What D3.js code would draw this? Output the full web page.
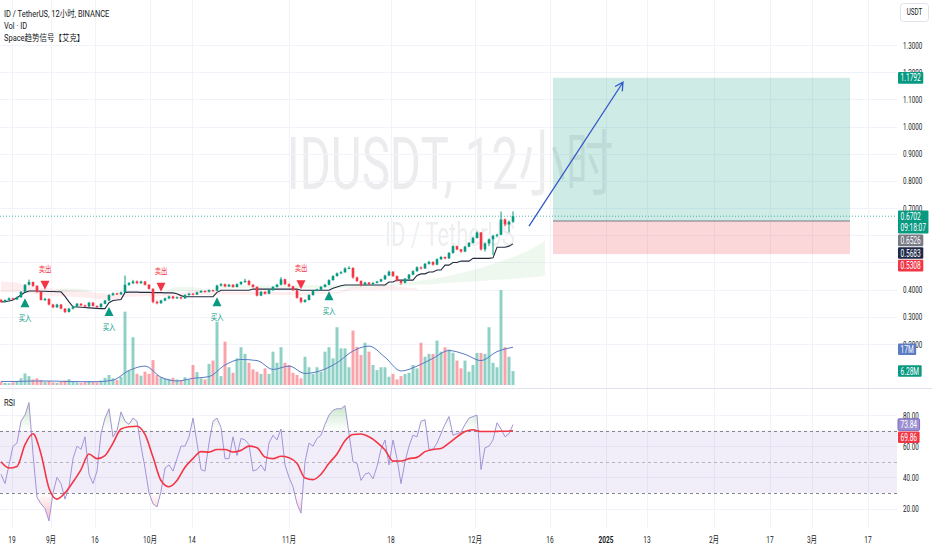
<!DOCTYPE html>
<html>
<head>
<meta charset="utf-8" />
<title>IDUSDT 12小时</title>
<style>
  body { margin: 0; background: #fff; }
  svg { display: block; }
</style>
</head>
<body>
<script src="https://d3js.org/d3.v7.min.js"></script>
<script>
// ---- data ----
// one row per 12h bar: [open, high, low, close]
var candles = [
  [.362,.366,.352,.355],[.355,.364,.353,.362],[.362,.371,.360,.368],[.368,.370,.362,.364],[.364,.375,.362,.372],
  [.372,.394,.370,.392],[.392,.420,.390,.418],[.418,.437,.415,.428],[.428,.430,.410,.414],[.414,.416,.388,.392],
  [.392,.394,.360,.362],[.362,.370,.358,.366],[.366,.368,.342,.345],[.345,.348,.332,.335],[.335,.348,.333,.345],
  [.345,.347,.328,.330],[.330,.332,.314,.318],[.318,.333,.316,.330],[.330,.340,.327,.338],[.338,.351,.336,.348],
  [.348,.350,.340,.342],[.342,.345,.335,.338],[.338,.355,.336,.352],[.352,.354,.338,.340],[.340,.342,.333,.336],
  [.336,.350,.334,.348],[.348,.362,.346,.360],[.360,.383,.358,.380],[.380,.390,.377,.386],[.386,.389,.380,.383],
  [.383,.393,.381,.390],[.390,.452,.388,.418],[.418,.428,.414,.424],[.424,.436,.420,.430],[.430,.434,.420,.424],
  [.424,.433,.421,.430],[.430,.432,.415,.418],[.418,.420,.400,.403],[.403,.405,.350,.355],[.355,.360,.346,.350],
  [.350,.363,.348,.360],[.360,.371,.357,.368],[.368,.378,.365,.375],[.375,.377,.365,.368],[.368,.375,.366,.372],
  [.372,.374,.364,.368],[.368,.383,.366,.380],[.380,.388,.378,.385],[.385,.387,.379,.382],[.382,.393,.380,.390],
  [.390,.398,.388,.395],[.395,.397,.389,.392],[.392,.401,.390,.398],[.398,.400,.393,.396],[.396,.418,.394,.415],
  [.415,.424,.412,.420],[.420,.422,.409,.412],[.412,.421,.410,.418],[.418,.420,.407,.410],[.410,.423,.408,.420],
  [.420,.431,.418,.428],[.428,.440,.425,.432],[.432,.436,.415,.418],[.418,.420,.407,.410],[.410,.412,.375,.378],
  [.378,.395,.376,.392],[.392,.394,.382,.385],[.385,.401,.383,.398],[.398,.413,.396,.410],[.410,.421,.408,.418],
  [.418,.446,.416,.438],[.438,.440,.417,.420],[.420,.423,.409,.412],[.412,.414,.395,.398],[.398,.400,.367,.370],
  [.370,.372,.350,.355],[.355,.365,.352,.362],[.362,.383,.360,.380],[.380,.399,.378,.396],[.396,.404,.394,.400],
  [.400,.413,.398,.410],[.410,.421,.408,.418],[.418,.438,.416,.435],[.435,.453,.433,.450],[.450,.463,.448,.460],
  [.460,.468,.457,.464],[.464,.482,.462,.478],[.478,.486,.475,.480],[.480,.482,.440,.445],[.445,.448,.428,.432],
  [.432,.434,.412,.418],[.418,.429,.416,.426],[.426,.428,.417,.420],[.420,.427,.418,.425],[.425,.432,.423,.430],
  [.430,.440,.428,.438],[.438,.455,.436,.452],[.452,.470,.450,.466],[.466,.468,.447,.450],[.450,.452,.429,.432],
  [.432,.434,.418,.425],[.425,.443,.423,.440],[.440,.458,.438,.455],[.455,.471,.453,.468],[.468,.486,.466,.482],
  [.482,.485,.474,.478],[.478,.498,.476,.495],[.495,.506,.492,.502],[.502,.504,.488,.492],[.492,.515,.490,.512],
  [.512,.524,.509,.520],[.520,.522,.512,.515],[.515,.538,.513,.535],[.535,.563,.532,.560],[.560,.562,.545,.548],
  [.548,.550,.536,.540],[.540,.561,.538,.558],[.558,.575,.556,.572],[.572,.594,.570,.590],[.590,.614,.588,.610],
  [.610,.612,.544,.548],[.548,.574,.540,.570],[.570,.588,.560,.585],[.585,.602,.527,.598],[.598,.606,.592,.602],
  [.602,.687,.600,.658],[.658,.662,.634,.640],[.640,.654,.610,.650],[.650,.688,.645,.6702]
];

// volume per bar, millions
var volumes = [
  1.5,1.0,0.8,1.2,1.8,3.0,5.2,4.0,2.5,3.0, 2.2,1.5,1.8,1.2,1.0,1.4,2.0,2.6,1.5,1.2,
  1.0,1.3,1.8,1.5,1.2,2.0,3.2,4.5,3.0,2.2, 3.7,33,6.5,21.5,5.0,4.2,6.0,5.0,11.2,4.5,
  3.5,3.0,2.8,3.2,2.5,2.0,3.5,2.5,9.0,5.8, 3.0,2.5,9.5,11,28.5,4,19.5,8,5.5,12,
  17,14,10,7,6,5,7.5,5,15,10, 17,10,9,5.5,4.5,3,12.7,8,5,8,
  6,15,17,12,26,16.5,16.5,8,24.5,17.2, 13.5,19,15,9,6.7,8,8,3.7,5,2.5,
  4,5,5.5,9,7.5,19,12.7,14,14,20, 15,17,16,14.5,11,7.5,11,6,9,14.4,
  14.4,14,26,10,8,42.7,17,12.7,6.28
];
// volume moving average, one value every 4 bars
var volMaStep = 4;
var volMa = [1.6,1.6,1.8,1.8,1.6,1.5,1.5,2.2,6.5,8.5,3.5,1.8,3.0,3.8,9,11.5,11,7,8.5,5.2,6.5,10,15.3,17.5,12.5,6.3,8.5,12,15.5,13.8,11,15,17];

// "Space趋势信号" trend line, per bar
var trend = [
  .355,.356,.358,.362,.370,.380,.390,
  .395,.395,.395,.394,.394,.393,.393,.392,.392,
  .375,.355,.337,
  .336,.335,.334,.333,.332,.331,.330,.330,
  .352,.360,.362,.364,.390,
  .391,.391,.391,.390,.390,.390,.389,.389,.389,.388,.388,.388,
  .385,.378,
  .374,.374,.374,.374,.374,.374,.374,.374,
  .390,
  .398,.398,.398,.398,.398,.398,.398,.398,
  .402,.402,.402,.402,.402,.402,.402,.402,.402,.402,.402,.402,
  .398,.398,.398,.398,.398,.398,.398,.398,
  .405,.410,.414,
  .417,.417,.417,.417,.417,.417,.417,.417,.417,.417,.417,
  .428,.428,
  .435,.435,.435,.435,.435,
  .452,.458,.458,.465,.465,.472,.472,.490,.490,.500,.500,.505,.505,.505,
  .515,.515,.515,.515,.515,.517,.556,.556,.556,.560,.5683
];

// cloud bands, one value every 4 bars
var cloudStep = 4;
var pinkTop = [.43,.425,.41,.405,.40,.395,.388,.386,.387,.387,.386,.384,.398,.398,.393,.392,.392,.392,.39,.39,.392,.392,.41,.41,.415,.41,.405];
var pinkBot = [.39,.39,.385,.378,.375,.372,.366,.364,.374,.376,.376,.376,.382,.38,.383,.382,.381,.381,.38,.38,.385,.386,.40,.398,.40,.40,.40];
var greenTop = [.39,.39,.39,.392,.405,.403,.39,.388,.388,.389,.39,.41,.41,.40,.417,.417,.415,.415,.417,.417,.417,.418,.418,.419,.42,.425,.432,.44,.45,.465,.48,.50,.52,.545,.58];
var greenBot = [.39,.39,.39,.392,.39,.392,.39,.388,.388,.389,.39,.392,.396,.40,.403,.404,.404,.405,.405,.405,.405,.406,.408,.41,.412,.415,.418,.42,.424,.428,.432,.436,.44,.445,.45];

var buyIdx = [6, 27, 54, 82];
var sellIdx = [11, 40, 75];

// RSI per bar, and its moving average every 2 bars
var rsi = [
  42,36,48,60,62,76,80,88,55,27, 23,20,12,30,40,36,26,34,52,60,
  58,66,42,36,44,68,78,84,66,70, 82,76,74,78,76,60,46,30,23,21,
  31,46,48,44,52,60,60,66,78,62, 45,44,62,76,78,72,52,52,66,54,
  65,64,61,44,45,48,44,62,67,64, 71,48,40,34,23,17,50,62,60,65,
  67,74,80,83,84,84,86,68,50,49, 38,42,43,39,47,58,64,48,64,52,
  36,50,60,67,66,76,77,58,58,62, 68,74,79,67,68,69,74,78,79,80,
  45,59,60,64,75,71,66,68,73.84
];
var rsiMaStep = 2;
var rsiMa = [
  50,46,47,61,68,55,33,26,30,37, 45,55,52,54,62,71,72.5,72.8,67.5,53,
  38,34,38,46.5,52,56.5,56.2,57.9,57.9,56.3, 57.3,60,59,53,52,53.5,52.6,49,39.5,38.5,
  42,49,55,63.5,67.5,67.8,66,62.5,57.5,50.4, 50.5,52,52.8,56.5,57.9,58.5,62,66,69.4,70.5,
  69.4,69.4,69.5,69.6,69.86
];

// long position tool and arrow drawing (bar index, price)
var posEntry = 0.6526, posTarget = 1.1792, posStop = 0.5308;
var posFrom = 138, posTo = 212.25;
var arrowPts = [[132, 0.634], [155.5, 1.163]];

// axis ticks (0.5 and 0.6 sit under the price tags, as in the picture)
var timeTicks = [[2.75,"19"],[12.5,"9月"],[23.5,"16"],[37.25,"10月"],[47.75,"14"],[72,"11月"],[97.5,"18"],
  [118.5,"12月"],[137.25,"16"],[151.25,"2025"],[161.5,"13"],[178.25,"2月"],[192.25,"17"],[202.75,"3月"],[216.75,"17"]];
var priceTicks = [0.2,0.3,0.4,0.5,0.6,0.7,0.8,0.9,1.0,1.1,1.2,1.3];
var priceLabels = [0.2,0.3,0.4,0.7,0.8,0.9,1.0,1.1,1.2,1.3];
var rsiTicks = [20, 40, 60, 80];
var lastPrice = 0.6702, countdown = "09:18:07";

// ---- layout ----
var width = 932, height = 550;
var plotRight = 897;
var mainBottom = 388, rsiTop = 388, rsiBottom = 528;
var up = "#089981", down = "#f23645";
var font = "Roboto, 'Noto Sans CJK SC', sans-serif";
var ink = "#131722";

var svg = d3.select("body").append("svg").attr("width", width).attr("height", height);
svg.append("rect").attr("width", width).attr("height", height).attr("fill", "#fff");

var x = d3.scaleLinear().domain([0, 128]).range([1, 513]);
var y = d3.scaleLinear().domain([0.2, 1.3]).range([344, 45]);
var yVol = d3.scaleLinear().domain([0, 45]).range([385, 285]);
var yRsi = d3.scaleLinear().domain([20, 80]).range([508.5, 415]);

var defs = svg.append("defs");
defs.append("clipPath").attr("id", "clipMain").append("rect")
    .attr("x", 0).attr("y", 0).attr("width", plotRight).attr("height", mainBottom);
defs.append("clipPath").attr("id", "clipRsi").append("rect")
    .attr("x", 0).attr("y", rsiTop).attr("width", plotRight).attr("height", rsiBottom - rsiTop);
defs.append("clipPath").attr("id", "clipOb").append("rect")
    .attr("x", 0).attr("y", rsiTop).attr("width", plotRight).attr("height", yRsi(70) - rsiTop);
defs.append("clipPath").attr("id", "clipOs").append("rect")
    .attr("x", 0).attr("y", yRsi(30)).attr("width", plotRight).attr("height", rsiBottom - yRsi(30));

var gOb = defs.append("linearGradient").attr("id", "gradOb").attr("gradientUnits", "userSpaceOnUse")
    .attr("x1", 0).attr("x2", 0).attr("y1", yRsi(100)).attr("y2", yRsi(70));
gOb.append("stop").attr("offset", 0).attr("stop-color", "#4caf50").attr("stop-opacity", 0.55);
gOb.append("stop").attr("offset", 1).attr("stop-color", "#4caf50").attr("stop-opacity", 0);
var gOs = defs.append("linearGradient").attr("id", "gradOs").attr("gradientUnits", "userSpaceOnUse")
    .attr("x1", 0).attr("x2", 0).attr("y1", yRsi(30)).attr("y2", yRsi(0));
gOs.append("stop").attr("offset", 0).attr("stop-color", down).attr("stop-opacity", 0);
gOs.append("stop").attr("offset", 1).attr("stop-color", down).attr("stop-opacity", 0.55);

function txt(g, px, py, s, size, fill, sx, anchor, weight) {
  return g.append("text")
      .attr("transform", "translate(" + px + "," + py + ") scale(" + sx + ",1)")
      .attr("font-family", font)
      .attr("font-size", size)
      .attr("fill", fill)
      .attr("text-anchor", anchor || "start")
      .attr("dominant-baseline", "central")
      .attr("font-weight", weight || "normal")
      .text(s);
}

// ---- watermark ----
var wm = svg.append("g").attr("fill", "rgba(120,123,134,0.14)").attr("font-family", font).attr("text-anchor", "middle");
wm.append("text").attr("transform", "translate(450,189) scale(0.66,1)").attr("font-size", 72).text("IDUSDT, 12小时");
wm.append("text").attr("transform", "translate(450,246) scale(0.65,1)").attr("font-size", 34).text("ID / TetherUS");

// ---- grid ----
var grid = svg.append("g").attr("stroke", "#f0f3fa").attr("stroke-width", 1);
grid.selectAll(".v").data(timeTicks).enter().append("line")
    .attr("x1", d => Math.round(x(d[0])) + 0.5).attr("x2", d => Math.round(x(d[0])) + 0.5)
    .attr("y1", 0).attr("y2", rsiBottom);
grid.selectAll(".h").data(priceTicks).enter().append("line")
    .attr("x1", 0).attr("x2", plotRight)
    .attr("y1", d => Math.round(y(d)) + 0.5).attr("y2", d => Math.round(y(d)) + 0.5);
grid.selectAll(".r").data(rsiTicks).enter().append("line")
    .attr("x1", 0).attr("x2", plotRight)
    .attr("y1", d => Math.round(yRsi(d)) + 0.5).attr("y2", d => Math.round(yRsi(d)) + 0.5);

// ---- main pane ----
var main = svg.append("g").attr("clip-path", "url(#clipMain)");

// long position
main.append("rect").attr("x", x(posFrom)).attr("width", x(posTo) - x(posFrom))
    .attr("y", y(posTarget)).attr("height", y(posEntry) - y(posTarget))
    .attr("fill", up).attr("fill-opacity", 0.2);
main.append("rect").attr("x", x(posFrom)).attr("width", x(posTo) - x(posFrom))
    .attr("y", y(posEntry)).attr("height", y(posStop) - y(posEntry))
    .attr("fill", down).attr("fill-opacity", 0.2);
main.append("line").attr("x1", x(posFrom)).attr("x2", x(posTo))
    .attr("y1", y(posEntry)).attr("y2", y(posEntry))
    .attr("stroke", "#787b86").attr("stroke-width", 1.2);

// clouds
var pinkArea = d3.area().x((d, i) => x(i * cloudStep)).y0((d, i) => y(pinkBot[i])).y1(d => y(d)).curve(d3.curveMonotoneX);
var greenArea = d3.area().x((d, i) => x(i * cloudStep)).y0((d, i) => y(greenBot[i])).y1(d => y(d)).curve(d3.curveMonotoneX);
main.append("path").datum(pinkTop).attr("d", pinkArea).attr("fill", down).attr("fill-opacity", 0.09);
main.append("path").datum(greenTop).attr("d", greenArea).attr("fill", "#4caf50").attr("fill-opacity", 0.09);

// volume
main.append("g").selectAll("rect").data(volumes).enter().append("rect")
    .attr("x", (d, i) => x(i) - 1.5).attr("width", 3)
    .attr("y", d => yVol(d)).attr("height", d => yVol(0) - yVol(d))
    .attr("fill", (d, i) => candles[i][3] >= candles[i][0] ? up : down)
    .attr("fill-opacity", 0.45);
main.append("path").datum(volMa)
    .attr("d", d3.line().x((d, i) => x(i * volMaStep)).y(d => yVol(d)).curve(d3.curveMonotoneX))
    .attr("fill", "none").attr("stroke", "#5b7bc4").attr("stroke-width", 1);

// trend line
main.append("path").datum(trend)
    .attr("d", d3.line().x((d, i) => x(i)).y(d => y(d)))
    .attr("fill", "none").attr("stroke", "#232a40").attr("stroke-width", 1.1);

// candles
var cg = main.append("g");
cg.selectAll("line").data(candles).enter().append("line")
    .attr("x1", (d, i) => x(i)).attr("x2", (d, i) => x(i))
    .attr("y1", d => y(d[1])).attr("y2", d => y(d[2]))
    .attr("stroke", d => d[3] >= d[0] ? up : down).attr("stroke-width", 1);
cg.selectAll("rect").data(candles).enter().append("rect")
    .attr("x", (d, i) => x(i) - 1.3).attr("width", 2.6)
    .attr("y", d => y(Math.max(d[0], d[3])))
    .attr("height", d => Math.max(1, Math.abs(y(d[0]) - y(d[3]))))
    .attr("fill", d => d[3] >= d[0] ? up : down);

// signals
var sg = main.append("g");
buyIdx.forEach(function (i) {
  var cx = x(i), top = y(candles[i][2]) + 6;
  sg.append("path").attr("d", "M" + cx + "," + top + "L" + (cx + 4.5) + "," + (top + 9) + "L" + (cx - 4.5) + "," + (top + 9) + "Z").attr("fill", up);
  txt(sg, cx, top + 20, "买入", 8.5, up, 0.75, "middle");
});
sellIdx.forEach(function (i) {
  var cx = x(i), bot = y(candles[i][1]) - 8;
  sg.append("path").attr("d", "M" + cx + "," + bot + "L" + (cx + 4.5) + "," + (bot - 9) + "L" + (cx - 4.5) + "," + (bot - 9) + "Z").attr("fill", down);
  txt(sg, cx, bot - 21, "卖出", 8.5, down, 0.75, "middle");
});

// last price line
main.append("line").attr("x1", 0).attr("x2", plotRight)
    .attr("y1", y(lastPrice)).attr("y2", y(lastPrice))
    .attr("stroke", up).attr("stroke-width", 1).attr("stroke-dasharray", "1,2").attr("stroke-opacity", 0.7);

// arrow
var a0 = [x(arrowPts[0][0]), y(arrowPts[0][1])], a1 = [x(arrowPts[1][0]), y(arrowPts[1][1])];
var ang = Math.atan2(a1[1] - a0[1], a1[0] - a0[0]);
var headL = 9, headA = 0.5;
main.append("path")
    .attr("d", "M" + a0 + "L" + a1 +
      "M" + (a1[0] - headL * Math.cos(ang - headA)) + "," + (a1[1] - headL * Math.sin(ang - headA)) + "L" + a1 +
      "L" + (a1[0] - headL * Math.cos(ang + headA)) + "," + (a1[1] - headL * Math.sin(ang + headA)))
    .attr("fill", "none").attr("stroke", "#3359c6").attr("stroke-width", 1.3);

// pane separator
svg.append("line").attr("x1", 0).attr("x2", width).attr("y1", mainBottom + 0.5).attr("y2", mainBottom + 0.5)
    .attr("stroke", "#e0e3eb").attr("stroke-width", 1);

// ---- RSI pane ----
var rp = svg.append("g").attr("clip-path", "url(#clipRsi)");
rp.append("rect").attr("x", 0).attr("width", plotRight)
    .attr("y", yRsi(70)).attr("height", yRsi(30) - yRsi(70))
    .attr("fill", "#7e57c2").attr("fill-opacity", 0.1);
[70, 50, 30].forEach(function (v) {
  rp.append("line").attr("x1", 0).attr("x2", plotRight)
      .attr("y1", Math.round(yRsi(v)) + 0.5).attr("y2", Math.round(yRsi(v)) + 0.5)
      .attr("stroke", "#787b86").attr("stroke-width", 1)
      .attr("stroke-dasharray", "3,3").attr("stroke-opacity", v === 50 ? 0.5 : 0.9);
});
rp.append("g").attr("clip-path", "url(#clipOb)").append("path").datum(rsi)
    .attr("d", d3.area().x((d, i) => x(i)).y0(yRsi(70)).y1(d => yRsi(d)))
    .attr("fill", "url(#gradOb)");
rp.append("g").attr("clip-path", "url(#clipOs)").append("path").datum(rsi)
    .attr("d", d3.area().x((d, i) => x(i)).y0(yRsi(30)).y1(d => yRsi(d)))
    .attr("fill", "url(#gradOs)");
rp.append("path").datum(rsi)
    .attr("d", d3.line().x((d, i) => x(i)).y(d => yRsi(d)))
    .attr("fill", "none").attr("stroke", "#a493d8").attr("stroke-width", 1);
rp.append("path").datum(rsiMa)
    .attr("d", d3.line().x((d, i) => x(i * rsiMaStep)).y(d => yRsi(d)).curve(d3.curveMonotoneX))
    .attr("fill", "none").attr("stroke", down).attr("stroke-width", 1.6);

// ---- axes ----
var ax = svg.append("g");
timeTicks.forEach(function (t) {
  txt(ax, x(t[0]), 539, t[1], 9.6, ink, 0.68, "middle", t[1] === "2025" ? "bold" : "normal");
});
priceLabels.forEach(function (v) {
  txt(ax, 903, y(v), d3.format(".4f")(v), 9.6, ink, 0.65);
});
rsiTicks.forEach(function (v) {
  txt(ax, 903, yRsi(v), d3.format(".2f")(v), 9.6, ink, 0.65);
});

// price scale tags, stacked so they do not overlap
function drawTags(list) {
  var h = 11.6;
  list.sort((a, b) => a.v - b.v);
  var prev = -Infinity;
  list.forEach(function (t) {
    var top = Math.max(t.v - h / 2, prev + 1);
    var hh = h * t.lines.length;
    prev = top + hh;
    var g = ax.append("g");
    var r = g.append("rect").attr("x", 898).attr("y", top).attr("height", hh).attr("rx", 1)
        .attr("fill", t.fill).attr("stroke", t.stroke || "none");
    var w = 0;
    t.lines.forEach(function (s, k) {
      var n = txt(g, 900.5, top + h * (k + 0.5), s, 10, t.color || "#fff", 0.66);
      w = Math.max(w, n.node().getComputedTextLength() * 0.66);
    });
    r.attr("width", w + 5);
  });
}
drawTags([
  {v: y(posTarget), lines: [d3.format(".4f")(posTarget)], fill: up},
  {v: y(lastPrice), lines: [d3.format(".4f")(lastPrice), countdown], fill: up},
  {v: y(posEntry), lines: [d3.format(".4f")(posEntry)], fill: "#787b86"},
  {v: y(trend[trend.length - 1]), lines: [d3.format(".4f")(trend[trend.length - 1])], fill: "#1f2a48"},
  {v: y(posStop), lines: [d3.format(".4f")(posStop)], fill: down}
]);
drawTags([
  {v: yVol(volMa[volMa.length - 1]) + 2, lines: [volMa[volMa.length - 1] + "M"], fill: "#5b7bc4"},
  {v: yVol(volumes[volumes.length - 1]), lines: [volumes[volumes.length - 1] + "M"], fill: up}
]);
drawTags([
  {v: yRsi(rsi[rsi.length - 1]), lines: [d3.format(".2f")(rsi[rsi.length - 1])], fill: "#9c8fd1", stroke: "#7e6fc2"},
  {v: yRsi(rsiMa[rsiMa.length - 1]), lines: [d3.format(".2f")(rsiMa[rsiMa.length - 1])], fill: down}
]);

// currency button
ax.append("rect").attr("x", 900.5).attr("y", 3.5).attr("width", 28).attr("height", 18).attr("rx", 3)
    .attr("fill", "#fff").attr("stroke", "#e0e3eb");
txt(ax, 914.5, 12.5, "USDT", 9, ink, 0.7, "middle");

// ---- legends ----
var lg = svg.append("g");
txt(lg, 4, 14, "ID / TetherUS, 12小时, BINANCE", 8.6, ink, 0.87);
txt(lg, 4, 26, "Vol · ID", 8.6, ink, 0.87);
txt(lg, 4, 38, "Space趋势信号【艾克】", 8.6, ink, 0.87);
txt(lg, 4, 403, "RSI", 8.6, ink, 0.87);
</script>
</body>
</html>
